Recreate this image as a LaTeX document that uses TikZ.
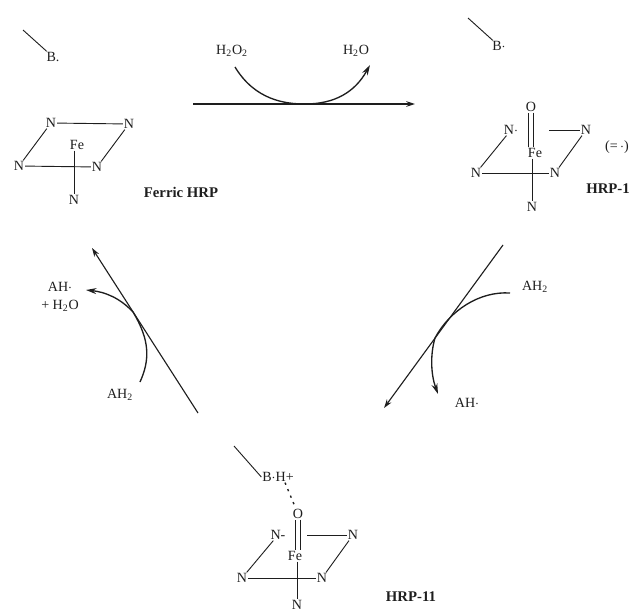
\documentclass[tikz,border=0pt]{standalone}
\usepackage{xcolor}
\usepackage{fontspec}
\setmainfont{Liberation Serif}
\usetikzlibrary{arrows.meta}
\definecolor{ink}{RGB}{30,30,30}
\tikzset{
  atom/.style={inner sep=0.5pt,text=ink,font=\fontsize{10}{11}\selectfont},
  tag/.style={inner sep=1pt,text=ink,font=\fontsize{10.5}{12}\selectfont\bfseries},
  chem/.style={inner sep=1pt,text=ink,align=center,font=\fontsize{10}{11}\selectfont},
  bond/.style={draw=ink,line width=0.65pt},
  oxo/.style={bond,double=white,double distance=3pt,line width=0.55pt},
  hbond/.style={draw=ink,line width=1pt,dash pattern=on 1.6pt off 3.4pt},
  flow/.style={-{Stealth[length=2.2mm,width=1.4mm]},draw=ink,line width=0.8pt},
  swing/.style={-{Stealth[length=2.6mm,width=1.5mm]},draw=ink,line width=0.95pt},
}
\begin{document}
\begin{tikzpicture}[x=0.025cm,y=-0.025cm]
  \useasboundingbox (0,0) rectangle (630,612);

  % ferric enzyme, top left
  \coordinate (stemf) at (23,30);
  \node[atom] (bf) at (53,57) {B.};
  \node[atom] (nf1) at (51,123) {N};
  \node[atom] (nf2) at (129,124) {N};
  \node[atom] (nf3) at (19,166) {N};
  \node[atom] (nf4) at (97,167) {N};
  \node[atom] (nf5) at (74,200) {N};
  \node[atom] (fef) at (77,145) {Fe};
  \node[tag] (namef) at (181,192) {Ferric HRP};
  \draw[bond] (stemf) -- (bf);
  \draw[bond] (nf1) -- (nf2);
  \draw[bond] (nf1) -- (nf3);
  \draw[bond] (nf2) -- (nf4);
  \draw[bond] (nf3) -- (nf4);
  \draw[bond] (fef.south -| nf5) -- (nf5);

  % compound I, top right
  \coordinate (stema) at (468,18);
  \node[atom] (ba) at (499,46) {B$\cdot$};
  \node[atom] (oa) at (531,107) {O};
  \node[atom] (na1) at (511,130) {N$\cdot$};
  \node[atom] (na2) at (586,130) {N};
  \node[atom] (na3) at (476,173) {N};
  \node[atom] (na4) at (555,173) {N};
  \node[atom] (na5) at (532,207) {N};
  \node[atom] (fea) at (535,153) {Fe};
  \node[atom] (rada) at (617,147) {(=$\,\cdot$)};
  \node[tag] (namea) at (608,189) {HRP-1};
  \draw[bond] (stema) -- (ba);
  \draw[oxo] (oa) -- (oa |- fea.north);
  \draw[bond] (na1) -- (na3);
  \draw[bond] (na2) -- (na4);
  \draw[bond] (na3) -- (na4);
  \draw[bond] (549,130) -- (na2);
  \draw[bond] (fea.south -| na5) -- (na5);

  % compound II, bottom
  \coordinate (stemb) at (234,446);
  \node[atom] (bb) at (278,477) {B$\cdot$H+};
  \node[atom] (ob) at (298,514) {O};
  \node[atom] (nb1) at (278,535) {N-};
  \node[atom] (nb2) at (353,535) {N};
  \node[atom] (nb3) at (242,578) {N};
  \node[atom] (nb4) at (322,578) {N};
  \node[atom] (nb5) at (297,605) {N};
  \node[atom] (feb) at (295,556) {Fe};
  \node[tag] (nameb) at (411,597) {HRP-11};
  \draw[bond] (stemb) -- (bb.west);
  \draw[hbond] ([xshift=5pt]bb.south) -- (ob);
  \draw[oxo] (ob) -- (ob |- feb.north);
  \draw[bond] (nb1) -- (nb3);
  \draw[bond] (nb2) -- (nb4);
  \draw[bond] (nb3) -- (nb4);
  \draw[bond] (307,535) -- (nb2);
  \draw[bond] (feb.south -| nb5) -- (nb5);

  % top step
  \coordinate (ta) at (193,104);
  \coordinate (tb) at (415,104);
  \node[chem] (hpo) at (232,51) {H\textsubscript{2}O\textsubscript{2}};
  \node[chem] (wat) at (356,51) {H\textsubscript{2}O};
  \draw[flow] (ta) -- (tb);
  \draw[swing] (235,67) .. controls (255,100) and (285,104) .. (305,104)
        .. controls (335,104) and (355,92) .. (370,65);

  % right step
  \coordinate (ra) at (503,245);
  \coordinate (rb) at (384,408);
  \node[chem] (aha) at (535,287) {AH\textsubscript{2}};
  \node[chem] (ahb) at (467,403) {AH$\cdot$};
  \draw[flow] (ra) -- (rb);
  \draw[swing] (510,293) .. controls (480,291) and (450,310) .. (435,338)
        .. controls (430,355) and (431,375) .. (438,394);

  % left step
  \coordinate (la) at (198,413);
  \coordinate (lb) at (92,248);
  \node[chem] (ahc) at (120,395) {AH\textsubscript{2}};
  \node[chem] (ahd) at (60,297) {AH$\cdot$\\[2pt]+ H\textsubscript{2}O};
  \draw[flow] (la) -- (lb);
  \draw[swing] (140,382) .. controls (150,360) and (150,340) .. (133,312)
        .. controls (120,298) and (105,292) .. (86,290);
\end{tikzpicture}
\end{document}
